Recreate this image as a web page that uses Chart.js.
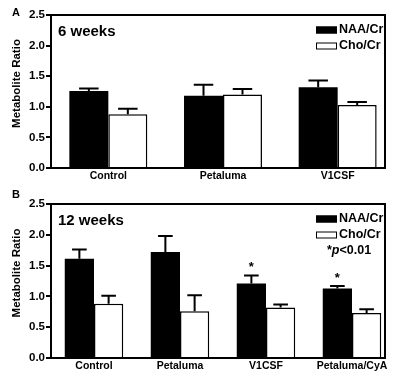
<!DOCTYPE html>
<html lang="en">
<head>
<meta charset="UTF-8">
<title>Metabolite Ratio</title>
<style>
  body { margin: 0; padding: 0; background: #fff; }
  canvas { display: block; }
</style>
</head>
<body>
<canvas id="chartA" width="400" height="185"></canvas>
<canvas id="chartB" width="400" height="189"></canvas>
<script src="https://cdn.jsdelivr.net/npm/chart.js@4.4.1/dist/chart.umd.min.js"></script>
<script>
// panel A - 6 weeks
const labelsA = ['Control', 'Petaluma', 'V1CSF'];
const naaA = [1.26, 1.18, 1.32];
const naaErrA = [0.04, 0.18, 0.11];
const choA = [0.88, 1.20, 1.03];
const choErrA = [0.09, 0.09, 0.05];

// panel B - 12 weeks
const labelsB = ['Control', 'Petaluma', 'V1CSF', 'Petaluma/CyA'];
const naaB = [1.61, 1.72, 1.21, 1.13];
const naaErrB = [0.15, 0.26, 0.13, 0.04];
const choB = [0.88, 0.76, 0.82, 0.73];
const choErrB = [0.13, 0.26, 0.05, 0.06];
const sigB = ['', '', '*', '*'];

const yTicks = [0, 0.5, 1.0, 1.5, 2.0, 2.5];

const FONT = '"Liberation Sans", Arial, sans-serif';

// frame, error bars, legend and labels drawn on top of the bars
const panelPlugin = {
  id: 'panel',
  afterDatasetsDraw(chart, args, opts) {
    const ctx = chart.ctx;
    const area = chart.chartArea;
    const y = chart.scales.y;
    const frameRight = area.right - 10;

    ctx.save();
    ctx.strokeStyle = '#000';
    ctx.fillStyle = '#000';
    ctx.lineWidth = 2;

    // error bars (upper only)
    chart.data.datasets.forEach((ds, di) => {
      const meta = chart.getDatasetMeta(di);
      meta.data.forEach((bar, i) => {
        const top = y.getPixelForValue(ds.data[i] + ds.errors[i]);
        const half = bar.width / 4;
        ctx.beginPath();
        ctx.moveTo(bar.x, bar.y);
        ctx.lineTo(bar.x, top);
        ctx.moveTo(bar.x - half, top);
        ctx.lineTo(bar.x + half, top);
        ctx.stroke();
        if (ds.sig && ds.sig[i]) {
          ctx.font = 'bold 13px ' + FONT;
          ctx.textAlign = 'center';
          ctx.textBaseline = 'middle';
          ctx.fillText(ds.sig[i], bar.x, top - 8);
        }
      });
    });

    // box
    ctx.strokeRect(area.left, area.top, frameRight - area.left, area.bottom - area.top);

    // panel title
    ctx.font = 'bold 15px ' + FONT;
    ctx.textAlign = 'left';
    ctx.textBaseline = 'middle';
    ctx.fillText(opts.title, area.left + 7, area.top + 17);

    // legend
    const boxX = frameRight - 69;
    ctx.font = 'bold 12.5px ' + FONT;
    chart.data.datasets.forEach((ds, di) => {
      const cy = area.top + 15 + di * 16;
      ctx.fillStyle = ds.backgroundColor;
      ctx.fillRect(boxX, cy - 3.5, 21, 7);
      ctx.lineWidth = 1;
      ctx.strokeRect(boxX + 0.5, cy - 3, 20, 6);
      ctx.fillStyle = '#000';
      ctx.fillText(ds.label, boxX + 23, cy);
    });

    if (opts.note) {
      const cy = area.top + 47;
      let x = frameRight - 58;
      ctx.font = 'bold 12.5px ' + FONT;
      ctx.fillText('*', x, cy);
      x += ctx.measureText('*').width;
      ctx.font = 'italic bold 12.5px ' + FONT;
      ctx.fillText('p', x, cy);
      x += ctx.measureText('p').width;
      ctx.font = 'bold 12.5px ' + FONT;
      ctx.fillText('<0.01', x, cy);
    }

    // y title
    ctx.save();
    ctx.translate(17, (area.top + area.bottom) / 2 - 8);
    ctx.rotate(-Math.PI / 2);
    ctx.textAlign = 'center';
    ctx.font = 'bold 11.5px ' + FONT;
    ctx.fillText('Metabolite Ratio', 0, 0);
    ctx.restore();

    // panel letter
    ctx.font = 'bold 11px ' + FONT;
    ctx.textAlign = 'left';
    ctx.fillText(opts.letter, 12, opts.letterY);

    ctx.restore();
  }
};

function makeChart(id, labels, naa, naaErr, cho, choErr, sig, topPad, xH, panel) {
  return new Chart(document.getElementById(id), {
    type: 'bar',
    data: {
      labels: labels,
      datasets: [
        { label: 'NAA/Cr', data: naa, errors: naaErr, sig: sig,
          backgroundColor: '#000', borderColor: '#000', borderWidth: 0 },
        { label: 'Cho/Cr', data: cho, errors: choErr,
          backgroundColor: '#fff', borderColor: '#000', borderWidth: 1.5 }
      ]
    },
    options: {
      responsive: false,
      animation: false,
      categoryPercentage: 0.68,
      barPercentage: 1.0,
      layout: { padding: { top: topPad, right: 5, left: 0, bottom: 0 } },
      plugins: {
        legend: { display: false },
        tooltip: { enabled: false },
        panel: panel
      },
      scales: {
        x: {
          grid: { display: false, drawTicks: false },
          border: { display: false },
          ticks: { color: '#000', padding: 2, maxRotation: 0, autoSkip: false,
                   font: { family: FONT, size: 10.5, weight: 'bold' } },
          afterFit(s) { s.height = xH; }
        },
        y: {
          min: 0,
          max: 2.5,
          afterBuildTicks(s) { s.ticks = yTicks.map(v => ({ value: v })); },
          grid: { drawOnChartArea: false, drawTicks: true, tickLength: 5, color: '#000', lineWidth: 2 },
          border: { display: false },
          ticks: { color: '#000', padding: 1,
                   font: { family: FONT, size: 11.5, weight: 'bold' },
                   callback: v => v.toFixed(1) },
          afterFit(s) { s.width = 51; }
        }
      }
    },
    plugins: [panelPlugin]
  });
}

makeChart('chartA', labelsA, naaA, naaErrA, choA, choErrA, null, 15, 17,
  { title: '6 weeks', letter: 'A', letterY: 12.5, note: false });
makeChart('chartB', labelsB, naaB, naaErrB, choB, choErrB, sigB, 19, 16,
  { title: '12 weeks', letter: 'B', letterY: 10, note: true });
</script>
</body>
</html>
